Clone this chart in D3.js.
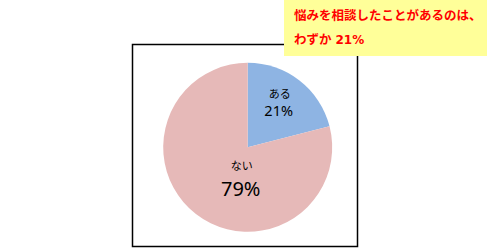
<!DOCTYPE html>
<html>
<head>
<meta charset="utf-8">
<style>
  body { margin: 0; background: #fff; }
  svg { display: block; }
  .frame { fill: none; stroke: #000; stroke-width: 1.5px; }
  .note text { fill: #ff0000; font-weight: bold; font-family: "Noto Sans CJK JP", sans-serif; font-size: 12.5px; }
  .note tspan.num { font-family: "DejaVu Sans", sans-serif; font-size: 12px; }
  .lbl { font-family: "Noto Sans CJK JP", sans-serif; fill: #000; text-anchor: middle; }
</style>
<script src="https://d3js.org/d3.v7.min.js"></script>
</head>
<body>
<script>
var categories = ['ある', 'ない'];
var values = [21, 79];
var colors = ['#8eb4e3', '#e6b9b8'];
var noteLines = [['悩みを相談したことがあるのは、', ''], ['わずか', '21%']];

var width = 490, height = 248;
var cx = 247.7, cy = 147.3, r = 84.5;

var svg = d3.select('body').append('svg')
  .attr('width', width)
  .attr('height', height);

svg.append('rect')
  .attr('class', 'frame')
  .attr('x', 132.5).attr('y', 44.5)
  .attr('width', 225).attr('height', 202);

var pie = d3.pie().sort(null).value(d => d.v);
var arc = d3.arc().innerRadius(0).outerRadius(r);
var data = categories.map((c, i) => ({c: c, v: values[i], color: colors[i]}));
var arcs = pie(data);

var g = svg.append('g').attr('transform', 'translate(' + cx + ',' + cy + ')');
g.selectAll('path').data(arcs).enter().append('path')
  .attr('d', arc)
  .attr('fill', d => d.data.color);

// label placement (offsets tuned to match reference)
var labelArc = [
  {pos: [32, -53], catSize: 11, valSize: 14.5, gap: 17},
  {pos: [-6, 19], catSize: 11, valSize: 20, gap: 23}
];
arcs.forEach(function (a, i) {
  var L = labelArc[i];
  g.append('text').attr('class', 'lbl')
    .attr('x', L.pos[0]).attr('y', L.pos[1])
    .attr('dy', '0.35em')
    .style('font-size', L.catSize + 'px')
    .text(a.data.c);
  g.append('text').attr('class', 'lbl')
    .attr('x', L.pos[0] - 1).attr('y', L.pos[1] + L.gap)
    .attr('dy', '0.35em')
    .style('font-family', '"Noto Sans", "Open Sans", sans-serif')
    .style('font-size', L.valSize + 'px')
    .text(d3.format('d')(a.data.v) + '%');
});

var note = svg.append('g').attr('class', 'note');
note.append('rect')
  .attr('x', 284).attr('y', 0)
  .attr('width', 203).attr('height', 56)
  .attr('fill', '#ffff99');
var lines = note.selectAll('text').data(noteLines).enter().append('text')
  .attr('x', 294)
  .attr('y', (d, i) => 16 + i * 24)
  .attr('dy', '0.35em');
lines.append('tspan').text(d => d[0]);
lines.append('tspan').attr('class', 'num').attr('dx', 4).text(d => d[1]);
</script>
</body>
</html>
